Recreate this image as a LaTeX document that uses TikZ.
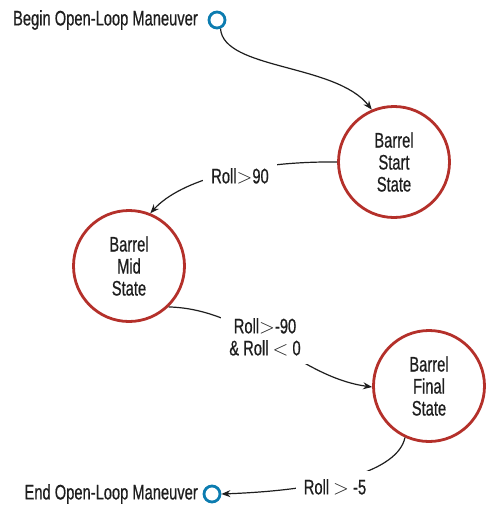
\documentclass[tikz,border=0pt]{standalone}
\usepackage{fontspec}
\setmainfont{Liberation Sans}[FakeStretch=0.70, FakeBold=0.6]
\usetikzlibrary{arrows.meta}
\definecolor{statered}{RGB}{180,48,42}
\definecolor{termblue}{RGB}{12,124,176}
\definecolor{ink}{RGB}{30,30,30}
\begin{document}
\begin{tikzpicture}[x=1pt,y=-1pt,
  every node/.style={font=\fontsize{21}{22}\selectfont, text=ink},
  state/.style={circle, draw=statered, line width=2.8pt, minimum size=111pt, inner sep=0pt, align=center},
  term/.style={circle, draw=termblue, line width=2.8pt, minimum size=16pt, inner sep=0pt},
  txt/.style={inner sep=0pt},
  cond/.style={fill=white, inner sep=8pt, align=center},
  trans/.style={draw=ink, line width=1.2pt, -{Stealth[length=9pt,width=7pt]}}]
  \useasboundingbox (0,0) rectangle (485,509);

  % terminal markers and their captions
  \node[term] (begin) at (217,20) {};
  \node[txt, anchor=east] (btext) at (198,20) {Begin Open-Loop Maneuver};
  \node[term] (end) at (212,494) {};
  \node[txt, anchor=east] (etext) at (198,494) {End Open-Loop Maneuver};

  % barrel states
  \node[state] (start) at (394,162) {Barrel\\Start\\State};
  \node[state] (mid)   at (129,266) {Barrel\\Mid\\State};
  \node[state] (final) at (429,386) {Barrel\\Final\\State};

  % transitions
  \draw[trans] (begin.-68) .. controls +(3,41) and +(-36,-46) .. (start.113);
  \draw[trans] (start.180) .. controls +(-87,-1) and +(30,-33) .. (mid.68);
  \draw[trans] (mid.-46) .. controls +(80,2) and +(-74,-10) .. (final.181);
  \draw[trans] (final.-115) .. controls +(-7,33) and +(109,-4) .. (end.east);

  % transition conditions
  \node[cond] (c1) at (240,176) {Roll$>$90};
  \node[cond] (c2) at (265,337) {Roll$>$-90\\\& Roll $<$ 0};
  \node[cond] (c3) at (335,487) {Roll $>$ -5};
\end{tikzpicture}
\end{document}
